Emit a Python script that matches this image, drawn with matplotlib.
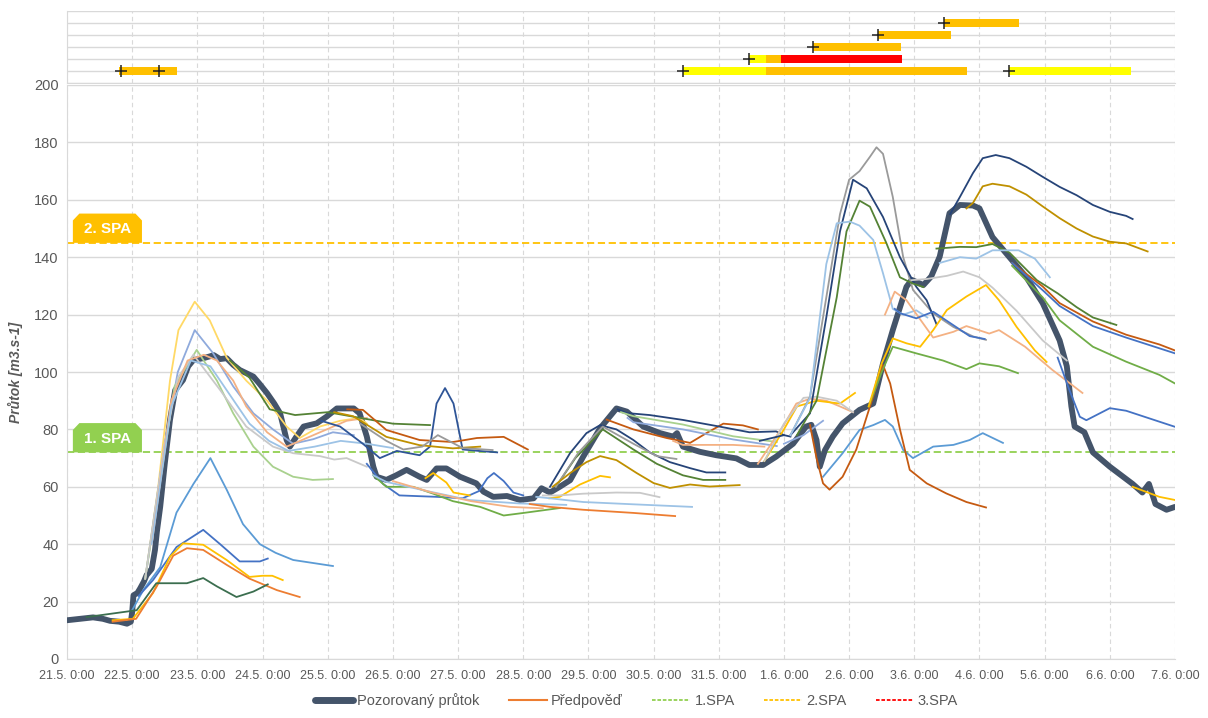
import matplotlib
matplotlib.use("Agg")
import matplotlib.pyplot as plt
from matplotlib.patches import Polygon
from matplotlib.lines import Line2D

plt.rcParams['font.family'] = ['Liberation Sans', 'DejaVu Sans']

# ---------------- data ----------------
tick_labels = ["21.5. 0:00", "22.5. 0:00", "23.5. 0:00", "24.5. 0:00", "25.5. 0:00", "26.5. 0:00",
               "27.5. 0:00", "28.5. 0:00", "29.5. 0:00", "30.5. 0:00", "31.5. 0:00", "1.6. 0:00",
               "2.6. 0:00", "3.6. 0:00", "4.6. 0:00", "5.6. 0:00", "6.6. 0:00", "7.6. 0:00"]

spa1 = 72
spa2 = 145

# observed flow: days since 21.5. 0:00, values m3/s
obs_x = [0, 0.2, 0.4, 0.55, 0.66, 0.8, 0.92, 0.98, 1.0, 1.02, 1.08, 1.12, 1.18, 1.22, 1.3, 1.35, 1.38, 1.43,
         1.5, 1.58, 1.66, 1.78, 1.86, 1.94, 2.09, 2.2, 2.25, 2.35, 2.45, 2.55, 2.65, 2.86, 2.95, 3.07, 3.18,
         3.27, 3.37, 3.42, 3.52, 3.63, 3.83, 3.98, 4.14, 4.4, 4.49, 4.6, 4.7, 4.75, 4.9, 5.05, 5.21, 5.41,
         5.52, 5.67, 5.82, 6.03, 6.28, 6.39, 6.54, 6.75, 6.95, 7.16, 7.28, 7.41, 7.56, 7.72, 7.92, 8.18,
         8.43, 8.59, 8.84, 9.1, 9.3, 9.36, 9.45, 9.71, 9.96, 10.27, 10.47, 10.68, 10.88, 11.14, 11.34,
         11.42, 11.5, 11.55, 11.63, 11.75, 11.9, 12.16, 12.37, 12.52, 12.67, 12.88, 12.96, 13.14, 13.26,
         13.39, 13.54, 13.7, 13.9, 14.0, 14.2, 14.46, 14.72, 14.97, 15.23, 15.34, 15.41, 15.46, 15.61,
         15.74, 16.0, 16.35, 16.5, 16.6, 16.7, 16.87, 17.0]
obs_y = [13.5, 14, 14.5, 14, 13.3, 13, 12.3, 13, 16.4, 22.2, 23, 24.5, 27, 29.2, 31.4, 38, 44.5, 53,
         68, 83.3, 93.7, 97.2, 102, 104.2, 104.8, 105.5, 105.9, 104.5, 104.8, 102.5, 100.7, 98.4, 96, 92.6, 89,
         85.6, 76.3, 74, 77.5, 81, 82.1, 84.4, 87.3, 87.3, 85.6, 77.5, 67, 63.5, 62.4, 64, 65.9, 63.5,
         62.4, 66.4, 66.4, 63.5, 61.2, 58.3, 56.5, 56.8, 55.4, 56, 59.5, 58, 60, 62.3, 70.5, 80.4,
         87.3, 86.2, 81, 78.7, 77.5, 78.7, 74, 72.2, 71, 69.9, 67.6, 67.6, 70.5, 75, 81,
         81.6, 76.3, 67, 72.8, 77.5, 82.1, 86.8, 89, 103, 114.6, 129.7, 132.1, 130.3, 133.3,
         140.2, 155.3, 158.2, 158, 157, 147, 140, 133, 124, 111, 102, 88, 81, 79,
         72, 67, 61, 58, 61, 54, 52, 53]

# forecasts (each: days, values)
fc01_x = [1.0, 1.17, 1.43, 1.68, 1.94, 2.2, 2.45, 2.7, 2.96, 3.2, 3.47, 4.08]
fc01_y = [17, 24, 32, 51, 61, 70, 59, 47, 40, 37, 34.5, 32.4]
fc02_x = [1.1, 1.32, 1.68, 2.09, 2.35, 2.65, 2.96, 3.08]
fc02_y = [22, 27.5, 39, 45, 40, 34, 34, 35]
fc03_x = [0.7, 1.01, 1.32, 1.58, 1.78, 2.09, 2.45, 2.8, 3.0, 3.15, 3.31]
fc03_y = [13.5, 14, 23, 35.6, 40.3, 39.8, 34.5, 28.6, 29, 29, 27.5]
fc04_x = [0.7, 1.06, 1.37, 1.63, 1.84, 2.09, 2.45, 2.8, 3.22, 3.57]
fc04_y = [13, 14, 25, 36, 38.6, 38, 32.8, 28, 24, 21.6]
fc05_x = [0.3, 1.07, 1.37, 1.84, 2.09, 2.3, 2.6, 2.86, 3.08]
fc05_y = [14.6, 17, 26.4, 26.4, 28.2, 25.3, 21.6, 23.5, 26]
fc06_x = [1.2, 1.4, 1.58, 1.71, 1.96, 2.19, 2.45, 2.75, 3.07, 3.37, 3.57, 3.88, 4.19, 4.49, 4.6]
fc06_y = [28, 60, 97, 114.6, 124.5, 118, 105, 97, 90, 81, 77, 81, 83, 84, 82]
fc07_x = [1.2, 1.5, 1.7, 1.96, 2.24, 2.55, 2.86, 3.16, 3.47, 3.78, 4.08, 4.4]
fc07_y = [28, 75, 100, 114.6, 106.6, 95, 85.6, 80, 75, 76.6, 79, 78]
fc08_x = [1.2, 1.45, 1.65, 1.99, 2.3, 2.55, 2.86, 3.16, 3.47, 3.77, 4.08]
fc08_y = [28, 65, 95, 107.7, 97, 85.6, 74, 67, 63.5, 62.4, 62.7]
fc09_x = [1.2, 1.5, 1.7, 1.94, 2.35, 2.75, 3.16, 3.47, 3.88, 4.1, 4.29, 4.6]
fc09_y = [28, 75, 98, 106, 93.7, 81, 74, 71.7, 70.7, 69.5, 70, 67]
fc10_x = [1.3, 1.6, 1.85, 2.1, 2.3, 2.55, 2.75, 3.07, 3.37, 3.78, 4.29, 4.6]
fc10_y = [40, 90, 104, 106, 104, 97, 88, 79, 74, 78, 83, 84]
fc11_x = [2.5, 2.8, 3.11, 3.5, 4.0, 4.5, 5.0, 5.57]
fc11_y = [104, 98, 87, 85, 86, 84, 82, 81.5]
fc12_x = [1.3, 1.6, 1.9, 2.2, 2.5, 2.8, 3.1, 3.4, 3.8, 4.2, 4.6, 5.0]
fc12_y = [40, 88, 104, 102, 92, 82, 76, 72.5, 74, 76, 75, 73.5]
fc13_x = [3.9, 4.19, 4.54, 4.8, 5.06, 5.41, 5.57, 5.67, 5.8, 5.93, 6.07, 6.32, 6.6]
fc13_y = [83, 81, 75, 70, 72.5, 71, 74, 89, 94.4, 89, 73, 72.5, 72]
fc14_x = [4.3, 4.54, 4.9, 5.41, 5.92, 6.29, 6.7, 7.07]
fc14_y = [87, 86.8, 79.8, 76.3, 75.6, 77, 77.4, 73]
fc15_x = [4.1, 4.39, 4.9, 5.41, 5.92, 6.34]
fc15_y = [86, 84.6, 77.4, 74.5, 73.4, 74]
fc16_x = [4.5, 4.9, 5.16, 5.45, 5.69, 6.07, 6.53]
fc16_y = [82, 76, 73, 74, 78, 73.5, 72.8]
fc17_x = [4.6, 4.85, 5.1, 5.67, 6.07, 6.32, 6.45, 6.55, 6.7, 6.85, 7.0]
fc17_y = [68, 61, 57, 56.5, 56, 58.5, 63, 64.8, 62, 58, 57]
fc18_x = [4.7, 4.9, 5.31, 5.62, 5.92, 6.34, 6.7, 7.04, 7.56]
fc18_y = [64, 60, 60, 57.6, 55, 53, 50, 51, 52.6]
fc19_x = [4.7, 4.9, 5.57, 6.17, 6.94, 7.66]
fc19_y = [64, 61.7, 58.3, 55.4, 54.2, 53.7]
fc20_x = [5.5, 5.62, 5.82, 5.93, 6.18]
fc20_y = [63, 64.8, 61.5, 58, 57]
fc21_x = [5.0, 5.6, 6.2, 6.8, 7.3]
fc21_y = [62, 58, 55, 53, 52.5]
fc22_x = [7.41, 7.72, 7.97, 8.18, 8.43, 8.69, 8.94, 9.25, 9.56, 9.81, 10.1]
fc22_y = [60, 71.8, 78.7, 81.5, 80, 76.3, 72, 68.6, 66.5, 65, 65]
fc23_x = [7.5, 7.8, 8.22, 8.69, 9.05, 9.45, 9.76, 10.1]
fc23_y = [60, 70, 80, 73, 68, 64, 62.4, 62.4]
fc24_x = [7.5, 7.85, 8.22, 8.69, 9.05, 9.35]
fc24_y = [60, 72, 81, 75, 70.7, 69.7]
fc25_x = [7.45, 7.72, 7.97, 8.18, 8.43, 8.74, 9.0, 9.25, 9.56, 9.86, 10.32]
fc25_y = [60, 64.8, 68.6, 70.7, 69.3, 64.8, 61.3, 59.6, 60.8, 60.1, 60.6]
fc26_x = [7.4, 7.56, 7.87, 8.18, 8.33]
fc26_y = [56, 56.5, 60.8, 63.8, 63.3]
fc27_x = [7.3, 7.56, 7.92, 8.43, 8.79, 9.09]
fc27_y = [57, 57, 57.6, 58, 57.9, 56.4]
fc28_x = [7.2, 7.41, 7.92, 8.69, 9.59]
fc28_y = [56.5, 56, 54.7, 53.9, 53]
fc29_x = [7.1, 7.41, 7.92, 8.69, 9.33]
fc29_y = [54, 53, 52, 50.9, 49.8]
fc30_x = [8.28, 8.69, 9.2, 9.56, 9.81, 10.07, 10.37, 10.6]
fc30_y = [83.4, 80, 77, 75.3, 78.7, 82, 81.4, 80]
fc31_x = [8.45, 8.59, 8.94, 9.45, 9.96, 10.47, 10.88, 11.0]
fc31_y = [87, 85.7, 85, 83.3, 81.2, 79, 79.3, 78]
fc32_x = [8.5, 8.69, 9.45, 10.22, 10.89]
fc32_y = [86, 84.6, 81.7, 77.6, 75.6]
fc33_x = [8.6, 8.69, 9.45, 10.22, 10.89]
fc33_y = [84, 82.5, 80, 76.5, 74.2]
fc34_x = [9.3, 9.45, 10.22, 10.7]
fc34_y = [76, 74.6, 74.6, 74]
fc35_x = [10.6, 11.0, 11.19, 11.4, 11.65, 11.86, 12.06]
fc35_y = [68, 81.6, 89, 90.7, 90, 88, 86]
fc36_x = [10.7, 11.0, 11.2, 11.5, 11.86, 12.09]
fc36_y = [69, 80, 88, 90, 89, 92.7]
fc37_x = [10.7, 11.0, 11.3, 11.5, 11.81, 12.06]
fc37_y = [69, 82, 91, 91.4, 90, 86]
fc38_x = [10.63, 11.0, 11.1]
fc38_y = [76, 78, 77.5]
fc39_x = [11.0, 11.3, 11.6]
fc39_y = [75, 78, 83]
fc40_x = [11.1, 11.4, 11.65, 11.86, 12.0, 12.16, 12.32, 12.42, 12.52, 12.67, 12.83, 12.98, 13.29, 13.6, 13.9, 14.1]
fc40_y = [78, 91.4, 126, 155, 167, 170, 175, 178.3, 176, 161, 140, 128.6, 120.4, 115.7, 112.4, 111.2]
fc41_x = [11.1, 11.4, 11.65, 11.86, 12.06, 12.27, 12.52, 12.78, 13.03, 13.19, 13.34]
fc41_y = [78, 85.6, 119, 149, 167, 164, 154, 140, 129.7, 125, 116.7]
fc42_x = [11.2, 11.5, 11.81, 11.96, 12.16, 12.32, 12.57, 12.78, 12.98, 13.14]
fc42_y = [78, 90, 126, 149, 159.7, 157.6, 145, 133, 130.8, 129.6]
fc43_x = [11.1, 11.4, 11.65, 11.81, 12.01, 12.16, 12.37, 12.52, 12.67, 12.83, 13.03, 13.2]
fc43_y = [78, 91, 137.6, 151.8, 152.4, 151, 146, 134.4, 122, 120, 121.5, 119]
fc44_x = [11.6, 11.9, 12.16, 12.37, 12.55, 12.67, 12.83, 12.98, 13.29, 13.6, 13.85, 14.05, 14.36]
fc44_y = [63.5, 71.7, 79.8, 81.5, 83.3, 81, 72.8, 70, 74, 74.6, 76.3, 78.7, 75.3]
fc45_x = [11.4, 11.5, 11.6, 11.7, 11.9, 12.11, 12.32, 12.52, 12.63, 12.78, 12.93, 13.19, 13.49, 13.8, 14.1]
fc45_y = [81.5, 70, 61.2, 59, 63.5, 73, 88, 102.4, 96, 80, 65.9, 61.2, 57.7, 54.7, 52.8]
fc46_x = [12.3, 12.5, 12.67, 13.03, 13.44, 13.8, 14.0, 14.3, 14.59]
fc46_y = [88, 100, 108.8, 106.5, 104, 101, 103, 102, 99.6]
fc47_x = [12.3, 12.5, 12.67, 12.88, 13.09, 13.29, 13.5, 13.8, 14.1, 14.3, 14.57, 14.85, 15.03]
fc47_y = [88, 103, 111.7, 110, 108.8, 114.6, 121.6, 126.3, 130.3, 125, 115.7, 107.5, 103.5]
fc48_x = [12.55, 12.7, 12.88, 13.29, 13.6, 13.8, 14.15, 14.3, 14.7, 15.12, 15.58]
fc48_y = [120, 128, 125, 112, 114, 116, 113.4, 114.6, 108.8, 100.7, 92.7]
fc49_x = [12.7, 12.78, 13.03, 13.29, 13.6, 13.85, 14.08]
fc49_y = [122, 120.5, 118.7, 121, 116.3, 112.5, 111.5]
fc50_x = [12.96, 13.19, 13.5, 13.75, 14.0, 14.2, 14.57, 14.97, 15.34]
fc50_y = [132, 132.4, 133.5, 135, 133, 129.4, 121.3, 111, 104]
fc51_x = [13.34, 13.7, 13.95, 14.2, 14.46, 14.88, 15.2, 15.49, 15.74, 16.1]
fc51_y = [143, 143.6, 143.5, 144.6, 141.6, 132, 127.4, 122.6, 119, 116.4]
fc52_x = [13.39, 13.7, 13.95, 14.2, 14.6, 14.85, 15.08]
fc52_y = [138, 140, 139.5, 142.4, 142.4, 139.5, 133]
fc53_x = [13.55, 13.7, 13.9, 14.05, 14.25, 14.46, 14.72, 14.97, 15.23, 15.49, 15.74, 16.0, 16.25, 16.35]
fc53_y = [155, 161, 169.3, 174.5, 175.6, 174.5, 171.5, 168, 164.5, 161.6, 158.2, 155.8, 154.4, 153.3]
fc54_x = [13.8, 13.9, 14.05, 14.2, 14.46, 14.72, 14.97, 15.23, 15.49, 15.74, 16.0, 16.25, 16.58]
fc54_y = [157, 158.9, 164.7, 165.6, 164.7, 161.8, 157.7, 153.6, 150, 147.2, 145.4, 144.8, 142]
fc55_x = [14.5, 14.97, 15.23, 15.74, 16.25, 16.76, 17.0]
fc55_y = [138, 129.8, 124, 117.6, 113, 109.6, 107.5]
fc56_x = [14.5, 14.97, 15.23, 15.74, 16.25, 17.0]
fc56_y = [138, 128.5, 123, 116, 112, 106.5]
fc57_x = [14.5, 14.97, 15.23, 15.74, 16.25, 16.76, 17.0]
fc57_y = [137, 126, 118, 108.8, 103.6, 99, 96]
fc58_x = [15.2, 15.38, 15.54, 15.64, 16.0, 16.25, 17.0]
fc58_y = [105, 93.7, 84.4, 83.2, 87.4, 86.5, 80.9]
fc59_x = [16.35, 16.76, 17.0]
fc59_y = [60, 56.5, 55.4]

# warning bars in the top strip
warn_row = [1, 1, 1, 1, 2, 2, 2, 3, 4, 5]
warn_start = [0.80, 9.45, 10.72, 14.45, 10.47, 10.72, 10.96, 11.45, 12.45, 13.46]
warn_end = [1.69, 10.72, 13.81, 16.33, 10.72, 10.96, 12.81, 12.80, 13.56, 14.60]
warn_level = [2, 1, 2, 1, 1, 2, 3, 2, 2, 2]
mark_row = [1, 1, 1, 1, 2, 3, 4, 5]
mark_day = [0.83, 1.41, 9.45, 14.45, 10.47, 11.45, 12.45, 13.46]

# ---------------- styles ----------------
NAVY = "#264478"; BLUE = "#4472C4"; LBLUE = "#5B9BD5"; PBLUE = "#9DC3E6"; LAV = "#8FAADC"
ORANGE = "#ED7D31"; BROWN = "#C55A11"; PEACH = "#F4B183"; GOLD = "#FFC000"; LGOLD = "#FFD966"
OLIVE = "#BF9000"; GRAY = "#9A9A9A"; LGRAY = "#C9C9C9"; GREEN = "#70AD47"; DGREEN = "#548235"
LGREEN = "#A9D18E"; TEAL = "#3B6E4F"

forecasts = [
    (fc01_x, fc01_y, LBLUE), (fc02_x, fc02_y, BLUE), (fc03_x, fc03_y, GOLD), (fc04_x, fc04_y, ORANGE),
    (fc05_x, fc05_y, TEAL), (fc06_x, fc06_y, LGOLD), (fc07_x, fc07_y, LAV), (fc08_x, fc08_y, LGREEN),
    (fc09_x, fc09_y, LGRAY), (fc10_x, fc10_y, PEACH), (fc11_x, fc11_y, DGREEN), (fc12_x, fc12_y, PBLUE),
    (fc13_x, fc13_y, "#2F5597"), (fc14_x, fc14_y, BROWN), (fc15_x, fc15_y, OLIVE), (fc16_x, fc16_y, GRAY),
    (fc17_x, fc17_y, BLUE), (fc18_x, fc18_y, GREEN), (fc19_x, fc19_y, PBLUE), (fc20_x, fc20_y, GOLD),
    (fc21_x, fc21_y, PEACH), (fc22_x, fc22_y, NAVY), (fc23_x, fc23_y, DGREEN), (fc24_x, fc24_y, GRAY),
    (fc25_x, fc25_y, OLIVE), (fc26_x, fc26_y, GOLD), (fc27_x, fc27_y, LGRAY), (fc28_x, fc28_y, PBLUE),
    (fc29_x, fc29_y, ORANGE), (fc30_x, fc30_y, BROWN), (fc31_x, fc31_y, NAVY), (fc32_x, fc32_y, LGREEN),
    (fc33_x, fc33_y, LAV), (fc34_x, fc34_y, PEACH), (fc35_x, fc35_y, PEACH), (fc36_x, fc36_y, GOLD),
    (fc37_x, fc37_y, LGRAY), (fc38_x, fc38_y, NAVY), (fc39_x, fc39_y, LAV), (fc40_x, fc40_y, GRAY),
    (fc41_x, fc41_y, NAVY), (fc42_x, fc42_y, DGREEN), (fc43_x, fc43_y, PBLUE), (fc44_x, fc44_y, LBLUE),
    (fc45_x, fc45_y, BROWN), (fc46_x, fc46_y, GREEN), (fc47_x, fc47_y, GOLD), (fc48_x, fc48_y, PEACH),
    (fc49_x, fc49_y, BLUE), (fc50_x, fc50_y, LGRAY), (fc51_x, fc51_y, DGREEN), (fc52_x, fc52_y, PBLUE),
    (fc53_x, fc53_y, NAVY), (fc54_x, fc54_y, OLIVE), (fc55_x, fc55_y, BROWN), (fc56_x, fc56_y, BLUE),
    (fc57_x, fc57_y, GREEN), (fc58_x, fc58_y, BLUE), (fc59_x, fc59_y, GOLD),
]

level_colors = {1: "#FFFF00", 2: "#FFC000", 3: "#FF0000"}
TXT = "#595959"
GRID = "#D9D9D9"

# ---------------- figure ----------------
fig = plt.figure(figsize=(12.08, 7.18), dpi=100)
ax = fig.add_axes([67 / 1208, 59 / 718, 1108 / 1208, 574 / 718])
axt = fig.add_axes([67 / 1208, (718 - 83) / 718, 1108 / 1208, 72 / 718])

ndays = len(tick_labels) - 1
ax.set_xlim(0, ndays)
ax.set_ylim(0, 200)
ax.set_yticks(range(0, 201, 20))
ax.set_xticks(range(len(tick_labels)))
ax.set_xticklabels(tick_labels, fontsize=9, color=TXT)
ax.tick_params(axis='y', labelsize=10.5, colors=TXT, length=0, pad=6)
ax.tick_params(axis='x', length=0, pad=8)
ax.grid(axis='y', color=GRID, lw=1, zorder=0)
ax.grid(axis='x', color=GRID, lw=0.8, ls=(0, (4, 3)), zorder=0)
for s in ["top", "right"]:
    ax.spines[s].set_visible(False)
for s in ["left", "bottom"]:
    ax.spines[s].set_color(GRID)
ax.set_ylabel("Průtok [m3.s-1]", fontsize=10, color=TXT, fontstyle='italic', fontweight='bold', labelpad=8)

# thresholds
ax.axhline(spa1, color="#92D050", lw=1.3, ls=(0, (4, 2)), zorder=2)
ax.axhline(spa2, color="#FFC000", lw=1.3, ls=(0, (4, 2)), zorder=2)

def spa_label(y0, text, color):
    x0, x1, h, cx, cy = 0.09, 1.15, 10.2, 0.10, 2.4
    poly = Polygon([(x0, y0), (x0, y0 + h - cy), (x0 + cx, y0 + h), (x1 - cx, y0 + h),
                    (x1, y0 + h - cy), (x1, y0)], closed=True, facecolor=color, edgecolor='none', zorder=3)
    ax.add_patch(poly)
    ax.text((x0 + x1) / 2, y0 + h / 2 - 0.3, text, ha='center', va='center', color='white',
            fontsize=11, fontweight='bold', zorder=4)

spa_label(spa1, "1. SPA", "#92D050")
spa_label(spa2, "2. SPA", "#FFC000")

# observed
ax.plot(obs_x, obs_y, color="#44546A", lw=4.2, solid_capstyle='round', solid_joinstyle='round', zorder=5)
# forecasts
for fx, fy, c in forecasts:
    ax.plot(fx, fy, color=c, lw=1.3, zorder=6)

# legend
handles = [Line2D([], [], color="#44546A", lw=5, solid_capstyle='round'),
           Line2D([], [], color=ORANGE, lw=1.5),
           Line2D([], [], color="#92D050", lw=1.3, ls=(0, (2, 1))),
           Line2D([], [], color="#FFC000", lw=1.3, ls=(0, (2, 1))),
           Line2D([], [], color="#FF0000", lw=1.3, ls=(0, (2, 1)))]
labels = ["Pozorovaný průtok", "Předpověď", "1.SPA", "2.SPA", "3.SPA"]
fig.legend(handles, labels, loc='lower center', bbox_to_anchor=(0.527, -0.005), ncol=5, frameon=False,
           fontsize=10.5, handlelength=2.6, columnspacing=2.0, handletextpad=0.3, labelcolor=TXT)

# top strip
axt.set_xlim(0, ndays)
axt.set_ylim(0, 6)
axt.set_xticks(range(len(tick_labels)))
axt.set_yticks(range(0, 7))
axt.set_xticklabels([])
axt.set_yticklabels([])
axt.tick_params(length=0)
axt.grid(axis='y', color=GRID, lw=1, zorder=0)
axt.grid(axis='x', color=GRID, lw=0.8, ls=(0, (4, 3)), zorder=0)
for s in ["top", "right"]:
    axt.spines[s].set_visible(False)
for s in ["left", "bottom"]:
    axt.spines[s].set_color(GRID)
for r, a, b, lv in zip(warn_row, warn_start, warn_end, warn_level):
    axt.barh(r, b - a, left=a, height=0.7, color=level_colors[lv], zorder=2)
axt.plot(mark_day, mark_row, ls='none', marker='+', ms=8, mew=1.1, color='#222222', zorder=3)

fig.savefig("out.png", dpi=100)
